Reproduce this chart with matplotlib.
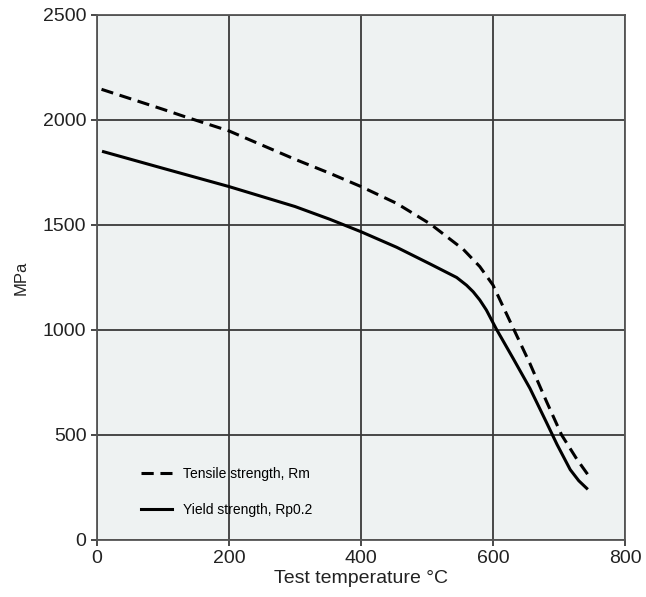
import matplotlib
matplotlib.use("Agg")
import matplotlib.pyplot as plt

plt.rcParams['font.family'] = ['Liberation Sans', 'DejaVu Sans']

# 引張強さ (破線)
tensile_temp = [7, 100, 133, 200, 300, 353, 400, 454, 505, 555, 580, 600, 626, 656, 681, 704, 727, 744]
tensile_mpa = [2146, 2051, 2016, 1948, 1813, 1746, 1683, 1603, 1505, 1384, 1302, 1214, 1040, 840, 660, 500, 385, 310]

# 耐力 (実線)
yield_temp = [10, 100, 200, 300, 353, 400, 454, 505, 545, 560, 570, 580, 590, 605, 631, 656, 681, 697, 717, 730, 742]
yield_mpa = [1849, 1770, 1683, 1588, 1527, 1468, 1394, 1314, 1250, 1213, 1182, 1143, 1095, 1005, 862, 722, 560, 455, 335, 282, 246]

x_ticks = [0, 200, 400, 600, 800]
y_ticks = [0, 500, 1000, 1500, 2000, 2500]

fig = plt.figure(figsize=(6.46, 5.97), dpi=100)
ax = fig.add_axes([0.150, 0.0955, 0.8175, 0.8794])
ax.set_facecolor("#eef2f2")

ax.plot(tensile_temp, tensile_mpa, color="black", lw=2.2, ls=(0, (4, 2.2)),
        label="Tensile strength, Rm")
ax.plot(yield_temp, yield_mpa, color="black", lw=2.2, label="Yield strength, Rp0.2")

ax.set_xlim(0, 800)
ax.set_ylim(0, 2500)
ax.set_xticks(x_ticks)
ax.set_yticks(y_ticks)
ax.grid(True, color="#3a3a3a", lw=1.3)
ax.set_axisbelow(True)
for s in ax.spines.values():
    s.set_color("#555555")
    s.set_linewidth(1.3)
ax.tick_params(labelsize=14, color="#3a3a3a", length=4, width=1.3, labelcolor="#222222")

ax.set_xlabel("Test temperature °C", fontsize=14, color="#222222", labelpad=2)
ax.set_ylabel("MPa", fontsize=12, color="#222222", labelpad=10)

ax.legend(loc="lower left", bbox_to_anchor=(0.06, 0.02), frameon=False, fontsize=10,
          handlelength=2.2, labelspacing=1.6)

fig.savefig("out.png", dpi=100)
